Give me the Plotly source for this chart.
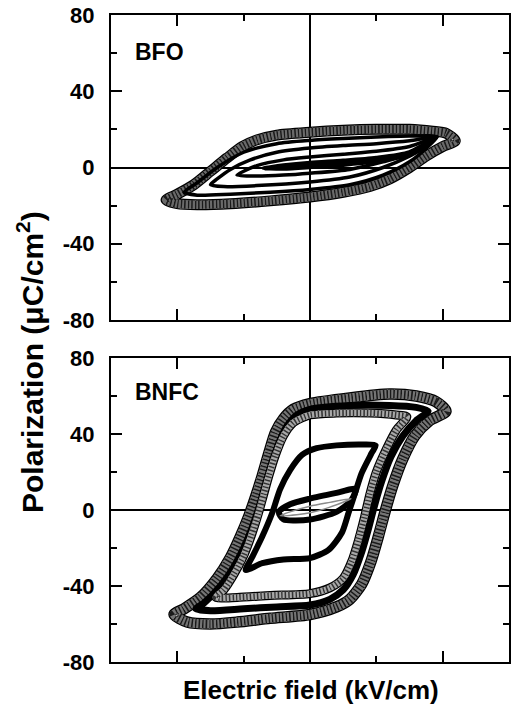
import plotly.graph_objects as go

# ---------------- data ----------------
# BFO panel, outer loop (gray triangles)
bfo1_E_up = [219, 205, 185, 150, 100, 50, 0, -50, -80, -102, -125, -150, -175, -200, -217]
bfo1_P_up = [14, 18, 19, 20, 20, 19.5, 18.5, 17, 14.5, 11, 5, -2, -9, -14, -17]
bfo1_E_lo = [-217, -200, -170, -120, -60, 0, 50, 90, 120, 150, 175, 200, 219]
bfo1_P_lo = [-17, -19, -19.5, -19, -17.5, -15.5, -13, -10, -6, 0, 6, 11, 14]
# BFO inner loops (black)
bfo2_E_up = [191, 150, 100, 50, 0, -50, -100, -140, -170, -190]
bfo2_P_up = [16, 16.5, 16, 15.2, 14.2, 12.5, 8, 0, -8, -13]
bfo2_E_lo = [-190, -170, -120, -60, 0, 60, 110, 150, 175, 191]
bfo2_P_lo = [-13, -14.5, -14, -13, -11.5, -9, -4, 3, 10, 16]
bfo3_E_up = [191, 150, 100, 50, 0, -50, -90, -120, -140, -150]
bfo3_P_up = [16, 14, 12.5, 11.5, 10.2, 8, 4, -1, -6, -9]
bfo3_E_lo = [-150, -130, -80, 0, 60, 110, 150, 175, 191]
bfo3_P_lo = [-9, -10, -9.5, -7.6, -5, 0, 6, 11, 16]
bfo4_E_up = [191, 150, 100, 50, 0, -40, -80, -100, -110]
bfo4_P_up = [16, 11, 8.5, 7, 5.5, 4, 1, -2, -4]
bfo4_E_lo = [-110, -80, -40, 0, 60, 110, 150, 191]
bfo4_P_lo = [-4, -4.5, -4, -3, -1, 3, 7, 16]
bfo5_E_up = [191, 150, 100, 50, 0, -40, -70]
bfo5_P_up = [16, 8, 5, 3.5, 2.4, 1, -0.5]
bfo5_E_lo = [-70, -40, 0, 50, 100, 150, 191]
bfo5_P_lo = [-0.5, -0.5, 0.3, 1.5, 3.5, 7, 16]

# BNFC panel
bnfc1_E_up = [205, 190, 160, 120, 60, 0, -25, -40, -52, -62, -72, -82, -92, -105, -120, -140, -165, -190, -205]
bnfc1_P_up = [52, 57, 60, 61, 59, 56, 53, 48, 41, 30, 18, 7, -3, -14, -25, -36, -46, -52, -55]
bnfc1_E_lo = [-205, -185, -150, -110, -60, 0, 40, 60, 78, 92, 103, 113, 125, 140, 158, 180, 205]
bnfc1_P_lo = [-55, -59, -60, -59, -57, -55, -51, -47, -39, -27, -14, -1, 13, 27, 39, 47, 52]
bnfc2_E_up = [178, 160, 120, 60, 0, -20, -35, -47, -57, -67, -77, -88, -100, -115, -135, -160, -172]
bnfc2_P_up = [52, 54, 55, 55, 53, 50, 44, 35, 24, 12, 1, -10, -20, -30, -40, -49, -52]
bnfc2_E_lo = [-172, -150, -100, -50, 0, 30, 50, 65, 78, 88, 97, 108, 122, 140, 160, 178]
bnfc2_P_lo = [-52, -53, -52, -51, -50, -47, -42, -34, -22, -10, 2, 15, 28, 39, 47, 52]
bnfc3_E_up = [146, 130, 90, 40, 0, -25, -40, -52, -62, -70, -78, -88, -100, -115, -130, -142]
bnfc3_P_up = [49, 50, 51, 51, 50, 46, 39, 29, 18, 8, -2, -13, -24, -34, -42, -46]
bnfc3_E_lo = [-142, -110, -60, 0, 30, 50, 63, 73, 82, 90, 100, 115, 130, 146]
bnfc3_P_lo = [-46, -46, -45, -44, -41, -36, -27, -16, -4, 8, 20, 32, 42, 49]
bnfc4_E_up = [99, 80, 40, 10, -12, -30, -45, -57, -72, -87, -97]
bnfc4_P_up = [34, 34.5, 34, 32.5, 29, 21, 11, -1.6, -14, -24.7, -31.6]
bnfc4_E_lo = [-97, -72, -40, 0, 28, 48, 58, 68, 78, 93, 99]
bnfc4_P_lo = [-31.6, -28, -26, -25.3, -21, -12, -1.6, 9, 19.5, 30, 34]
bnfc5_E_up = [69, 40, 0, -30, -47]
bnfc5_P_up = [11, 9, 6, 3, -1]
bnfc5_E_lo = [-47, -40, 0, 40, 62, 69]
bnfc5_P_lo = [-1, -5, -5, -1, 5, 11]
bnfc6_E_up = [62, 30, 0, -30, -45]
bnfc6_P_up = [6, 4, 2, -1, -3]
bnfc6_E_lo = [-45, -20, 0, 30, 62]
bnfc6_P_lo = [-3, -2.5, -1.5, 1.5, 6]

panel_labels = ["BFO", "BNFC"]
y_ticks = [-80, -40, 0, 40, 80]
y_tick_text = ["-80", "-40", "0", "40", "80"]
x_title = "Electric field (kV/cm)"
y_title = "Polarization (μC/cm<sup>2</sup>)"

FONT = "Liberation Sans, Arial, Helvetica, sans-serif"

fig = go.Figure()


def loop(Eu, Pu, El, Pl):
    return Eu + El[1:], Pu + Pl[1:]


def add_line(E, P, xa, ya, color, width, dash="solid"):
    fig.add_trace(go.Scatter(x=E, y=P, xaxis=xa, yaxis=ya, mode="lines",
                             line=dict(color=color, width=width, dash=dash,
                                       shape="spline", smoothing=0.7),
                             showlegend=False, hoverinfo="skip"))


def add_band(E, P, xa, ya, width, base, stripe, light):
    add_line(E, P, xa, ya, "black", width + 2.5)
    add_line(E, P, xa, ya, base, width)
    add_line(E, P, xa, ya, light, width, "1px,6px")
    add_line(E, P, xa, ya, stripe, width, "1.5px,2px")


# BFO
E, P = loop(bfo1_E_up, bfo1_P_up, bfo1_E_lo, bfo1_P_lo)
add_band(E, P, "x", "y", 8.5, "#6a6a6a", "#1a1a1a", "#d0d0d0")
for Eu, Pu, El, Pl in [(bfo2_E_up, bfo2_P_up, bfo2_E_lo, bfo2_P_lo),
                       (bfo3_E_up, bfo3_P_up, bfo3_E_lo, bfo3_P_lo),
                       (bfo4_E_up, bfo4_P_up, bfo4_E_lo, bfo4_P_lo)]:
    E, P = loop(Eu, Pu, El, Pl)
    add_line(E, P, "x", "y", "black", 3.5)
E, P = loop(bfo5_E_up, bfo5_P_up, bfo5_E_lo, bfo5_P_lo)
add_line(E, P, "x", "y", "black", 4.5)

# BNFC
E, P = loop(bnfc1_E_up, bnfc1_P_up, bnfc1_E_lo, bnfc1_P_lo)
add_band(E, P, "x2", "y2", 9, "#757575", "#1a1a1a", "#e8e8e8")
E, P = loop(bnfc2_E_up, bnfc2_P_up, bnfc2_E_lo, bnfc2_P_lo)
add_line(E, P, "x2", "y2", "black", 7)
E, P = loop(bnfc3_E_up, bnfc3_P_up, bnfc3_E_lo, bnfc3_P_lo)
add_band(E, P, "x2", "y2", 6.5, "#a8a8a8", "#333333", "#f5f5f5")
E, P = loop(bnfc4_E_up, bnfc4_P_up, bnfc4_E_lo, bnfc4_P_lo)
add_line(E, P, "x2", "y2", "black", 6)
E, P = loop(bnfc5_E_up, bnfc5_P_up, bnfc5_E_lo, bnfc5_P_lo)
add_line(E, P, "x2", "y2", "black", 6)
E, P = loop(bnfc6_E_up, bnfc6_P_up, bnfc6_E_lo, bnfc6_P_lo)
add_line(E, P, "x2", "y2", "#8a8a8a", 1.5)

xaxis_common = dict(range=[-300, 300], showgrid=False, showticklabels=False,
                    automargin=False,
                    ticks="inside", ticklen=11, tickwidth=2, tickcolor="black",
                    tick0=0, dtick=200,
                    minor=dict(ticks="inside", ticklen=6, tickwidth=2, tickcolor="black",
                               dtick=100, tick0=0, showgrid=False),
                    showline=True, linecolor="black", linewidth=2, mirror="allticks",
                    zeroline=True, zerolinecolor="black", zerolinewidth=2)
yaxis_common = dict(range=[-80, 80], showgrid=False, tickvals=y_ticks, ticktext=y_tick_text,
                    automargin=False, ticklabeloverflow="allow",
                    ticks="inside", ticklen=11, tickwidth=2, tickcolor="black",
                    minor=dict(ticks="inside", ticklen=6, tickwidth=2, tickcolor="black",
                               dtick=20, tick0=0, showgrid=False),
                    showline=True, linecolor="black", linewidth=2, mirror="allticks",
                    zeroline=True, zerolinecolor="black", zerolinewidth=2,
                    tickfont=dict(family=FONT, size=22, color="black", weight="bold"),
                    ticklabelstandoff=10)

fig.update_layout(
    width=511, height=709,
    margin=dict(l=111, r=1.5, t=15, b=47, autoexpand=False),
    paper_bgcolor="white", plot_bgcolor="white",
    xaxis=dict(domain=[0, 1], anchor="y", **xaxis_common),
    yaxis=dict(domain=[0.5286, 1], anchor="x", **yaxis_common),
    xaxis2=dict(domain=[0, 1], anchor="y2", **xaxis_common),
    yaxis2=dict(domain=[0, 0.4699], anchor="x2", **yaxis_common),
    showlegend=False,
    annotations=[
        dict(text=panel_labels[0], xref="paper", yref="paper", x=0.055, y=0.9428,
             xanchor="left", yanchor="middle", showarrow=False,
             font=dict(family=FONT, size=23, color="black", weight="bold")),
        dict(text=panel_labels[1], xref="paper", yref="paper", x=0.055, y=0.4173,
             xanchor="left", yanchor="middle", showarrow=False,
             font=dict(family=FONT, size=23, color="black", weight="bold")),
        dict(text=x_title, xref="paper", yref="paper", x=0.5025, y=-0.0433,
             xanchor="center", yanchor="middle", showarrow=False,
             font=dict(family=FONT, size=26, color="black", weight="bold")),
        dict(text=y_title, xref="paper", yref="paper", x=-0.2035, y=0.4637,
             xanchor="center", yanchor="middle", showarrow=False, textangle=-90,
             font=dict(family=FONT, size=30, color="black", weight="bold")),
    ],
)

# remove the default 8px page margin so the figure fills the 511x709 window
fig.write_html("out.html", config={"displayModeBar": False},
               post_script="document.body.style.margin='0px';")
